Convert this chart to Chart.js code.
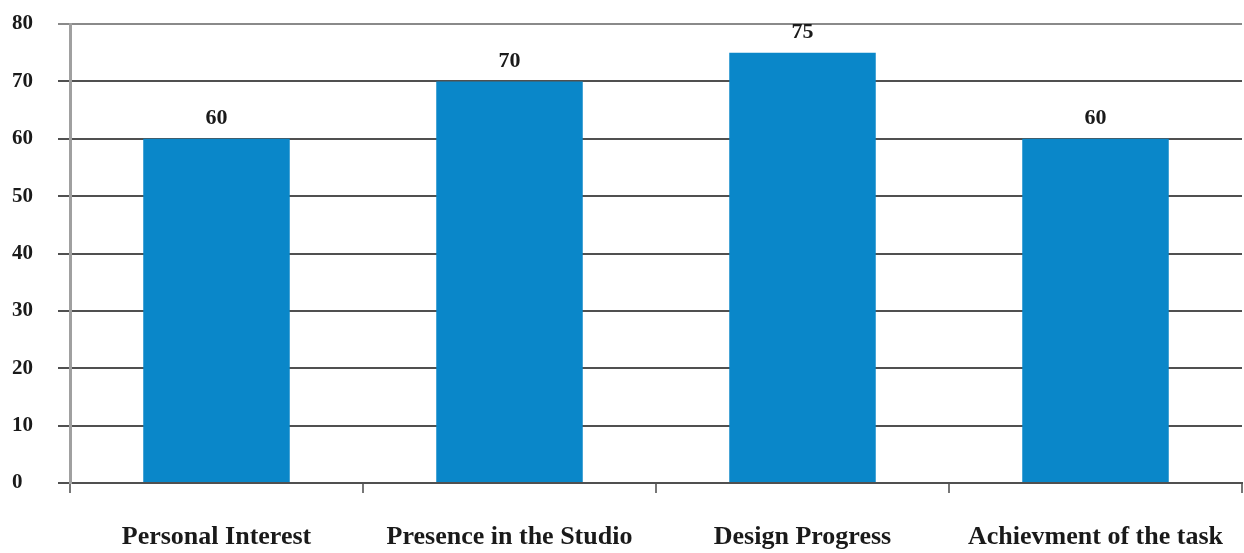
<!DOCTYPE html>
<html>
<head>
<meta charset="utf-8">
<script src="https://cdn.jsdelivr.net/npm/chart.js@4"></script>
<style>
    html, body { margin: 0; padding: 0; background: #fff; }
    #wrap { width: 1244px; height: 553px; position: relative; }
</style>
</head>
<body>
<div id="wrap"><canvas id="chart"></canvas></div>
<script>
// chart data
const categories = ['Personal Interest', 'Presence in the Studio', 'Design Progress', 'Achievment of the task'];
const scores = [60, 70, 75, 60];
const yTicks = [0, 10, 20, 30, 40, 50, 60, 70, 80];

const serif = '"Liberation Serif", "DejaVu Serif", serif';

// value labels above each bar
const barLabels = {
    id: 'barLabels',
    afterDatasetsDraw(chart) {
        const ctx = chart.ctx;
        const meta = chart.getDatasetMeta(0);
        ctx.save();
        ctx.font = 'bold 22px ' + serif;
        ctx.fillStyle = '#1a1a1a';
        ctx.textAlign = 'center';
        ctx.textBaseline = 'bottom';
        meta.data.forEach((bar, i) => {
            ctx.fillText(scores[i], bar.x, bar.y - 9);
        });
        ctx.restore();
    }
};

new Chart(document.getElementById('chart'), {
    type: 'bar',
    data: {
        labels: categories,
        datasets: [{
            data: scores,
            backgroundColor: '#0a87c9',
            borderWidth: 0,
            barPercentage: 0.5,
            categoryPercentage: 1
        }]
    },
    options: {
        responsive: true,
        maintainAspectRatio: false,
        animation: false,
        layout: { padding: { left: 12, top: 24, right: 2, bottom: 0 } },
        plugins: { legend: { display: false }, tooltip: { enabled: false } },
        scales: {
            x: {
                grid: {
                    offset: true,
                    drawOnChartArea: false,
                    drawTicks: true,
                    tickLength: 10,
                    color: '#777',
                    lineWidth: 2
                },
                border: { color: '#505050', width: 2 },
                ticks: {
                    font: { family: serif, size: 26, weight: 'bold' },
                    color: '#1a1a1a',
                    padding: 29,
                    maxRotation: 0,
                    autoSkip: false
                },
                afterFit(scale) {
                    scale.height = 70;
                    scale.paddingLeft = 0;
                    scale.paddingRight = 0;
                }
            },
            y: {
                min: 0,
                max: 80,
                afterBuildTicks(scale) { scale.ticks = yTicks.map(v => ({ value: v })); },
                grid: {
                    color: (c) => c.tick && c.tick.value === 80 ? '#8a8a8a' : '#505050',
                    lineWidth: 2,
                    tickLength: 12
                },
                border: { color: '#a0a0a0', width: 3 },
                ticks: {
                    font: { family: serif, size: 21, weight: 'bold' },
                    color: '#1a1a1a',
                    crossAlign: 'far'
                },
                afterFit(scale) { scale.width = 58; }
            }
        }
    },
    plugins: [barLabels]
});
</script>
</body>
</html>
